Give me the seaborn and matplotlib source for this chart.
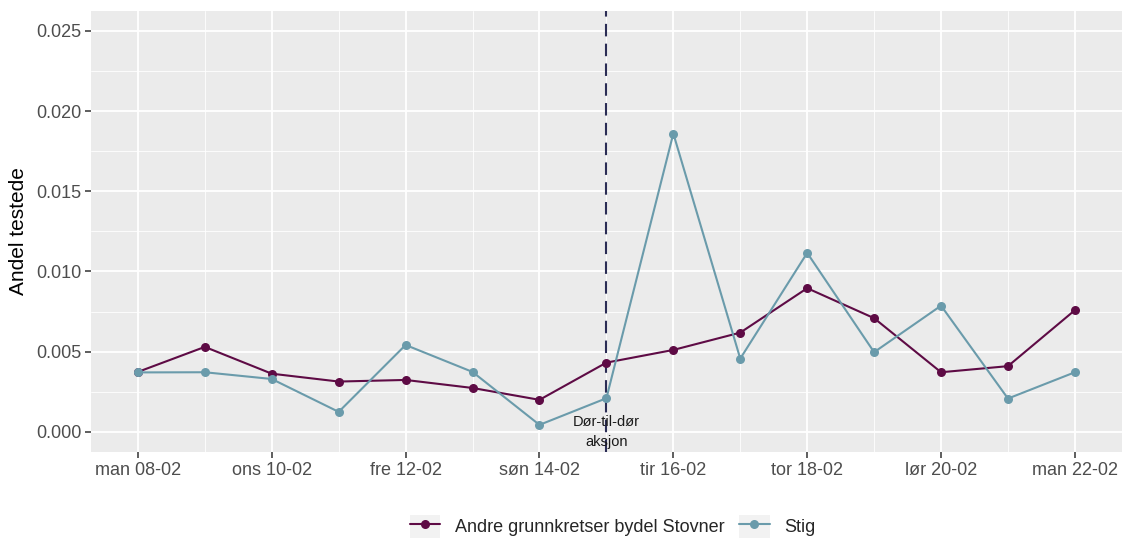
import pandas as pd
import numpy as np
import matplotlib.pyplot as plt
import seaborn as sns
from matplotlib.patches import Rectangle
from matplotlib.legend_handler import HandlerTuple

# Data
dates = pd.date_range('2021-02-08', '2021-02-22', freq='D')
andre = [0.00374, 0.00530, 0.00363, 0.00314, 0.00324, 0.00274, 0.00200, 0.00432,
         0.00511, 0.00619, 0.00896, 0.00709, 0.00372, 0.00410, 0.00759]
stig = [0.00371, 0.00372, 0.00330, 0.00125, 0.00542, 0.00374, 0.00044, 0.00210,
        0.01860, 0.00457, 0.01116, 0.00497, 0.00787, 0.00208, 0.00372]
series_names = ['Andre grunnkretser bydel Stovner', 'Stig']
tick_labels = ['man 08-02', 'ons 10-02', 'fre 12-02', 'søn 14-02',
               'tir 16-02', 'tor 18-02', 'lør 20-02', 'man 22-02']
action_day = pd.Timestamp('2021-02-15')
action_label = 'Dør-til-dør\naksjon'

df = pd.DataFrame({
    'dato': list(dates) * 2,
    'andel': andre + stig,
    'gruppe': [series_names[0]] * len(dates) + [series_names[1]] * len(dates),
})
df['dag'] = (df['dato'] - dates[0]).dt.days

palette = {series_names[0]: '#5e0b45', series_names[1]: '#6a9bab'}

# Styling (ggplot-like)
sns.set_theme(style='darkgrid', rc={
    'axes.facecolor': '#ebebeb',
    'grid.color': 'white',
})
plt.rcParams['font.family'] = ['Liberation Sans', 'DejaVu Sans']

fig = plt.figure(figsize=(11.24, 5.4), dpi=100)
ax = fig.add_axes([0.081, 0.163, 0.917, 0.817])

sns.lineplot(data=df, x='dag', y='andel', hue='gruppe', palette=palette,
             marker='o', markersize=6.5, markeredgewidth=0, linewidth=1.5,
             ax=ax, legend=True)

action_x = (action_day - dates[0]).days
ax.axvline(action_x, color='#2b2d55', linestyle=(0, (6, 3.5)), linewidth=1.5, zorder=1)
ax.text(action_x, 0.0, action_label, ha='center', va='center', fontsize=10.5,
        color='#1a1a1a', linespacing=1.6)

# Axes
n = len(dates) - 1
ax.set_xlim(-0.05 * n, n * 1.05)
ax.set_ylim(-0.00125, 0.02625)
ax.set_xticks(np.arange(0, 15, 2))
ax.set_xticklabels(tick_labels)
ax.set_xticks(np.arange(1, 15, 2), minor=True)
ax.set_yticks([0, 0.005, 0.01, 0.015, 0.02, 0.025])
ax.set_yticklabels(['0.000', '0.005', '0.010', '0.015', '0.020', '0.025'])
ax.set_yticks(np.arange(0.0025, 0.025, 0.005), minor=True)
ax.grid(which='major', color='white', linewidth=1.3)
ax.grid(which='minor', color='white', linewidth=0.6)
ax.tick_params(which='major', length=4, width=1.1, color='#333333',
               labelsize=13, labelcolor='#4d4d4d', bottom=True, left=True, pad=3)
ax.tick_params(which='minor', length=0)
ax.set_xlabel('')
ax.set_ylabel('Andel testede', fontsize=15, color='black', labelpad=6)
for s in ax.spines.values():
    s.set_visible(False)

# Legend at bottom, with grey key boxes
handles, labels = ax.get_legend_handles_labels()
ax.get_legend().remove()
keyed = [(Rectangle((0, 0), 1, 1, facecolor='#f2f2f2', edgecolor='none'), h)
         for h in handles]
leg = fig.legend(keyed, labels, loc='center', bbox_to_anchor=(0.545, 0.025),
                 ncol=2, frameon=False, fontsize=13, handlelength=1.7,
                 handleheight=1.5, columnspacing=0.8, handletextpad=0.8,
                 handler_map={tuple: HandlerTuple(ndivide=1, pad=0)})

plt.savefig('out.png', dpi=100)
